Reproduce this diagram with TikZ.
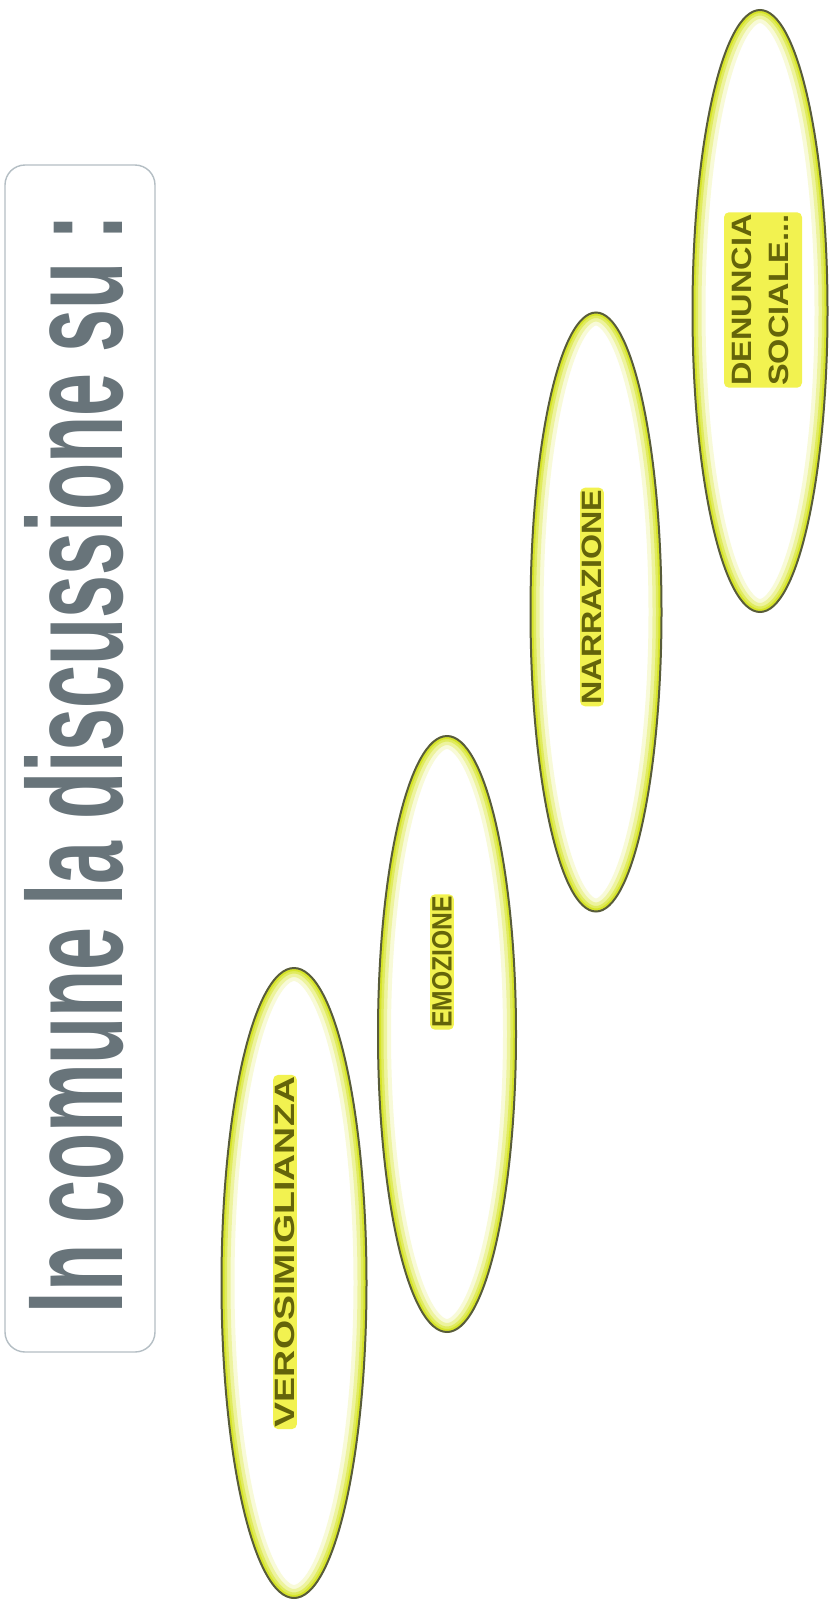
\documentclass[tikz,border=0pt]{standalone}
\usepackage{fontspec}
\setsansfont{Liberation Sans}
\usepackage{graphicx}
\usepackage{tikz}
\usetikzlibrary{shapes.geometric, calc}
\definecolor{titleink}{RGB}{104,116,122}
\definecolor{titleframe}{RGB}{180,190,196}
\definecolor{ovalrim}{RGB}{88,92,58}
\definecolor{ovalglow}{RGB}{214,228,40}
\definecolor{labelink}{RGB}{100,100,10}
\definecolor{labelback}{RGB}{242,242,80}
\tikzset{
  titlebox/.style={rectangle,draw=titleframe,line width=1.4pt,fill=white,rounded corners=20pt,
    minimum width=150pt,minimum height=1187pt,inner sep=0pt},
  titletext/.style={rotate=90,text=titleink,font=\sffamily\bfseries,inner sep=0pt},
  oval/.style={ellipse,draw=ovalrim,line width=2pt,fill=white,inner sep=0pt,
    path picture={\foreach \w/\c in {26/18,18/45,11/75,6/100}{
      \draw[ovalglow!\c,line width=\w pt] let \p1=($(path picture bounding box.north east)-(path picture bounding box.center)$) in
        (path picture bounding box.center) ellipse [x radius=\x1,y radius=\y1];}}},
  lbl/.style={rotate=90,font=\sffamily\bfseries\fontsize{28}{37}\selectfont,text=labelink,
    fill=labelback,rounded corners=5pt,inner sep=2pt},
}

\begin{document}
\begin{tikzpicture}[x=1pt,y=-1pt]
  \path[use as bounding box,fill=white] (0,0) rectangle (829,1601);
  % Heading
  \node[titlebox] (frame) at (80,758.5) {};
  \node[titletext] (heading) at (74,764) {\resizebox{1098pt}{98pt}{In comune la discussione su :}};
  % Ovals, left to right
  \node[oval,minimum width=145pt,minimum height=630pt] (e1) at (294,1283) {};
  \node[oval,minimum width=138pt,minimum height=596pt] (e2) at (447,1034) {};
  \node[oval,minimum width=131pt,minimum height=599pt] (e3) at (596,612) {};
  \node[oval,minimum width=135pt,minimum height=602pt] (e4) at (760,311) {};
  \node[lbl] (t1) at (285,1252) {\scalebox{1.34}[1]{VEROSIMIGLIANZA}};
  \node[lbl] (t2) at (442,962) {\scalebox{0.88}[1]{EMOZIONE}};
  \node[lbl] (t3) at (592,597) {\scalebox{1.15}[1]{NARRAZIONE}};
  \node[lbl] (t4) at (763,300) {\scalebox{1.16}[1]{\begin{tabular}{@{}c@{}}DENUNCIA\\SOCIALE...\end{tabular}}};
\end{tikzpicture}
\end{document}
